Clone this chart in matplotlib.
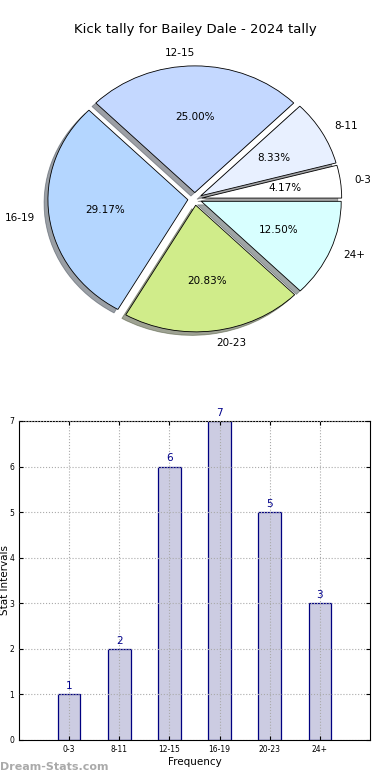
import numpy as np
import matplotlib
matplotlib.use('Agg')
import matplotlib.pyplot as plt

# data
categories = ['0-3', '8-11', '12-15', '16-19', '20-23', '24+']
counts = [1, 2, 6, 7, 5, 3]
pie_colors = ['#ffffff', '#e8f0ff', '#c4d8ff', '#b4d6ff', '#d0ec8a', '#d8ffff']
title = 'Kick tally for Bailey Dale - 2024 tally'

fig = plt.figure(figsize=(3.9, 7.8), dpi=100)

# pie chart
ax1 = fig.add_axes([0.051, 0.542, 0.897, 0.406])
wedges, texts, autotexts = ax1.pie(counts, labels=categories, colors=pie_colors,
                                   explode=[0.05] * len(counts), shadow=True,
                                   startangle=0, autopct='%.2f%%',
                                   wedgeprops={'edgecolor': 'black', 'linewidth': 0.6},
                                   textprops={'fontsize': 7.5})
ax1.set_aspect('auto')
ax1.set_xlim(-1.25, 1.25)
ax1.set_ylim(-1.25, 1.25)
ax1.axis('off')
fig.text(0.5, 0.962, title, ha='center', va='center', fontsize=9.5)

# bar chart
ax2 = fig.add_axes([0.0487, 0.0513, 0.9, 0.409])
x = np.arange(len(categories))
ax2.bar(x, counts, width=0.45, color='#ccccE2', edgecolor='#000080', linewidth=0.9)
for xi, c in zip(x, counts):
    ax2.text(xi, c + 0.07, str(c), ha='center', va='bottom', color='#00008b', fontsize=7.5)
ax2.set_xlim(-1, 6)
ax2.set_ylim(0, 7)
ax2.set_xticks(x)
ax2.set_xticklabels(categories, fontsize=5.5)
ax2.set_yticks(range(8))
ax2.tick_params(axis='y', labelsize=5.5)
ax2.tick_params(direction='in', top=True, right=True, length=3)
ax2.grid(True, linestyle=':', color='#aaaaaa', linewidth=0.8)
ax2.set_axisbelow(False)
ax2.set_xlabel('Frequency', fontsize=7.5, labelpad=2)
ax2.set_ylabel('Stat Intervals', fontsize=7.5, labelpad=2)
ax2.yaxis.set_label_coords(-0.025, 0.5)

fig.text(0.0, 0.01, 'Dream-Stats.com', fontsize=8, color='#aaaaaa', fontweight='bold',
         ha='left', va='bottom')

plt.savefig('out.png', dpi=100)
plt.close()
